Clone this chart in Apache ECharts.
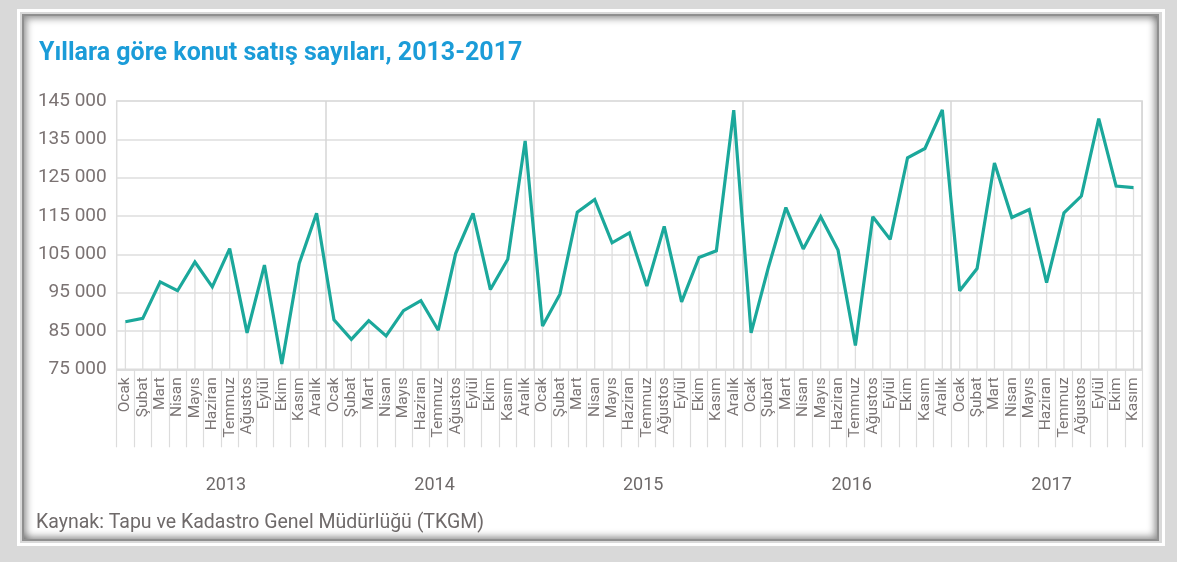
<!DOCTYPE html>
<html>
<head>
<meta charset="utf-8">
<script src="https://cdn.jsdelivr.net/npm/echarts@6/dist/echarts.min.js"></script>
<style>
  html, body { margin: 0; padding: 0; width: 1177px; height: 562px; background: #d9d9d9; overflow: hidden; }
  #outer { position: absolute; left: 17px; top: 9px; width: 1148px; height: 537px; box-sizing: border-box; border: 3px solid #ffffff; }
  #panel { position: absolute; left: 22px; top: 14px; width: 1137px; height: 527px; box-sizing: border-box; background: #ffffff;
           border: 2px solid #8f8f8f;
           box-shadow: inset 3px 3px 7px rgba(0,0,0,0.35), inset -3px -3px 7px rgba(0,0,0,0.35); }
  #chart { position: absolute; left: 0; top: 0; width: 1177px; height: 562px; }
</style>
</head>
<body>
<div id="outer"></div>
<div id="panel"></div>
<div id="chart"></div>
<script>
const titleText = 'Yıllara göre konut satış sayıları, 2013-2017';
const sourceText = 'Kaynak: Tapu ve Kadastro Genel Müdürlüğü (TKGM)';
const months = ['Ocak','Şubat','Mart','Nisan','Mayıs','Haziran','Temmuz','Ağustos','Eylül','Ekim','Kasım','Aralık'];
const years = ['2013','2014','2015','2016','2017'];
const sales2013 = [87400, 88300, 97800, 95500, 103000, 96500, 106500, 84500, 102200, 76400, 102600, 115700];
const sales2014 = [87900, 82800, 87700, 83700, 90300, 92900, 85200, 105200, 115700, 95800, 103700, 134600];
const sales2015 = [86300, 94600, 116000, 119300, 108000, 110600, 96700, 112300, 92600, 104200, 105900, 142600];
const sales2016 = [84500, 101700, 117200, 106400, 114800, 106100, 81200, 114800, 108900, 130200, 132600, 142700];
const sales2017 = [95500, 101300, 128800, 114600, 116700, 97600, 115800, 120200, 140400, 122800, 122400];
const yTickLabels = [75000, 85000, 95000, 105000, 115000, 125000, 135000, 145000];

const salesByYear = [sales2013, sales2014, sales2015, sales2016, sales2017];
const categories = [];
const values = [];
const yearRanges = [];
salesByYear.forEach((arr, yi) => {
  const start = categories.length;
  arr.forEach((v, mi) => { categories.push(months[mi]); values.push(v); });
  yearRanges.push([start, categories.length - 1]);
});
const yearStarts = yearRanges.map(r => r[0]);

function fmt(v) { return String(v).replace(/\B(?=(\d{3})+(?!\d))/g, ' '); }

const yMin = yTickLabels[0], yMax = yTickLabels[yTickLabels.length - 1];
const yStep = yTickLabels[1] - yTickLabels[0];

const chart = echarts.init(document.getElementById('chart'), null, { renderer: 'canvas' });
const option = {
  backgroundColor: 'transparent',
  animation: false,
  title: {
    text: titleText,
    left: 34, top: 36,
    textStyle: { fontFamily: 'Roboto', fontWeight: 'bold', fontSize: 25, color: '#1b9cd8' }
  },
  grid: {
    left: 116.7, right: 34.8, top: 101, bottom: 192.7,
    show: true, borderColor: '#dcdcdc', borderWidth: 1.5, backgroundColor: 'transparent'
  },
  xAxis: {
    type: 'category',
    data: categories,
    boundaryGap: true,
    axisLine: { show: true, lineStyle: { color: '#dcdcdc', width: 1.5 } },
    axisTick: { show: true, length: 78, interval: 0, lineStyle: { color: '#dcdcdc', width: 1.2 } },
    axisLabel: { interval: 0, rotate: 90, margin: 8, fontFamily: 'Roboto', fontSize: 15.5, color: '#7b7575' },
    splitLine: {
      show: true,
      interval: (i) => yearStarts.indexOf(i) > 0,
      lineStyle: { color: '#d6d6d6', width: 1.5 }
    }
  },
  yAxis: {
    type: 'value',
    min: yMin, max: yMax, interval: yStep / 2,
    axisLine: { show: false },
    axisTick: { show: false },
    axisLabel: {
      margin: 10, fontFamily: 'Roboto', fontSize: 19, color: '#7b7373',
      formatter: (v) => (yTickLabels.indexOf(v) >= 0 ? fmt(v) : '')
    },
    splitLine: { show: true, lineStyle: { color: ['#dedede', 'rgba(0,0,0,0)'], width: 1.5 } }
  },
  series: [
    {
      type: 'bar', data: values, barWidth: 1.3, silent: true, z: 1,
      itemStyle: { color: '#dedede' }
    },
    {
      type: 'line', data: values, symbol: 'none', smooth: false, z: 3,
      lineStyle: { color: '#1ba89b', width: 3.2, join: 'miter', miterLimit: 2.2 }
    }
  ]
};
chart.setOption(option);

const graphics = [];
yearRanges.forEach((r, i) => {
  const x0 = chart.convertToPixel({ xAxisIndex: 0 }, r[0]);
  const x1 = chart.convertToPixel({ xAxisIndex: 0 }, r[1]);
  graphics.push({
    type: 'text', x: (x0 + x1) / 2 + 5, y: 485,
    style: { text: years[i], fontFamily: 'Roboto', fontSize: 18, fill: '#6e6a6a', align: 'center', verticalAlign: 'middle' }
  });
});
graphics.push({
  type: 'text', x: 36, y: 523,
  style: { text: sourceText, fontFamily: 'Roboto', fontSize: 19.5, fill: '#6f6a6a', align: 'left', verticalAlign: 'middle' }
});
chart.setOption({ graphic: graphics });
</script>
</body>
</html>
